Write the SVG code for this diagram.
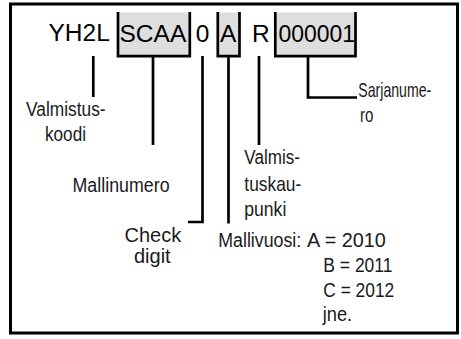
<svg xmlns="http://www.w3.org/2000/svg" width="461" height="339" viewBox="0 0 461 339">
<style>
.code{font-family:"Liberation Sans",Arial,sans-serif;font-size:24.5px;fill:#000}
.lbl{font-family:"Liberation Sans",Arial,sans-serif;font-size:21px;fill:#1a1a1a}
.reg{font-family:"Liberation Sans",Arial,sans-serif;font-size:20px;fill:#1a1a1a}
.shade{fill:#dedede;stroke:none}
.brk{fill:none;stroke:#000;stroke-width:2.7}
.con{fill:none;stroke:#000;stroke-width:2.7}
</style>
<rect x="10.5" y="4" width="447" height="329" fill="#fff" stroke="#000" stroke-width="3"/>
<g id="code-yh2l"><text class="code" x="48.5" y="41">YH2L</text></g>
<g id="code-scaa">
<rect class="shade" x="118" y="12.5" width="71.8" height="43.5"/>
<path class="brk" d="M118 12 V56.2 H189.8 V12"/>
<text class="code" x="119.5" y="41.5">SCAA</text>
</g>
<g id="code-0"><text class="code" x="195.7" y="41.5">0</text></g>
<g id="code-a">
<rect class="shade" x="217.8" y="12.5" width="21.7" height="43.5"/>
<path class="brk" d="M217.8 12 V56.2 H239.5 V12"/>
<text class="code" x="220" y="41.5">A</text>
</g>
<g id="code-r"><text class="code" x="252" y="41.5">R</text></g>
<g id="code-serial">
<rect class="shade" x="275.3" y="12.5" width="80.2" height="43.5"/>
<path class="brk" d="M275.3 12 V56.2 H355.5 V12"/>
<text class="code" transform="translate(278.5 41.5) scale(0.937 1)">000001</text>
</g>
<g id="connectors">
<path class="con" d="M93.3 56 V97"/>
<path class="con" d="M153 56 V145"/>
<path class="con" d="M202.5 56 V222 H188"/>
<path class="con" d="M228.5 56 V223.5"/>
<path class="con" d="M259 56 V145"/>
<path class="con" d="M308 56 V97.5 H357"/>
</g>
<g id="label-valmistuskoodi">
<text class="lbl" transform="translate(26 115.5) scale(0.826 1)">Valmistus-</text>
<text class="lbl" transform="translate(45 141) scale(0.817 1)">koodi</text>
</g>
<g id="label-mallinumero">
<text class="lbl" transform="translate(72.5 191.7) scale(0.849 1)">Mallinumero</text>
</g>
<g id="label-check">
<text class="reg" x="152.8" y="241.5" text-anchor="middle">Check</text>
<text class="reg" x="152.3" y="263" text-anchor="middle">digit</text>
</g>
<g id="label-valmistuskaupunki">
<text class="lbl" transform="translate(244.3 164) scale(0.814 1)">Valmis-</text>
<text class="lbl" transform="translate(244.3 190.7) scale(0.828 1)">tuskau-</text>
<text class="lbl" transform="translate(244.3 215.5) scale(0.837 1)">punki</text>
</g>
<g id="label-sarjanumero">
<text class="lbl" transform="translate(358.3 97) scale(0.673 1)">Sarjanume-</text>
<text class="lbl" transform="translate(360 121.7) scale(0.72 1)">ro</text>
</g>
<g id="label-mallivuosi">
<text class="lbl" transform="translate(218.3 246.7) scale(0.847 1)">Mallivuosi:</text>
<text class="lbl" transform="translate(307 246.7) scale(0.945 1)">A = 2010</text>
<text class="lbl" transform="translate(323.3 272) scale(0.833 1)">B = 2011</text>
<text class="lbl" transform="translate(323.3 296.5) scale(0.827 1)">C = 2012</text>
<text class="lbl" transform="translate(322.7 320.7) scale(0.87 1)">jne.</text>
</g>
</svg>
